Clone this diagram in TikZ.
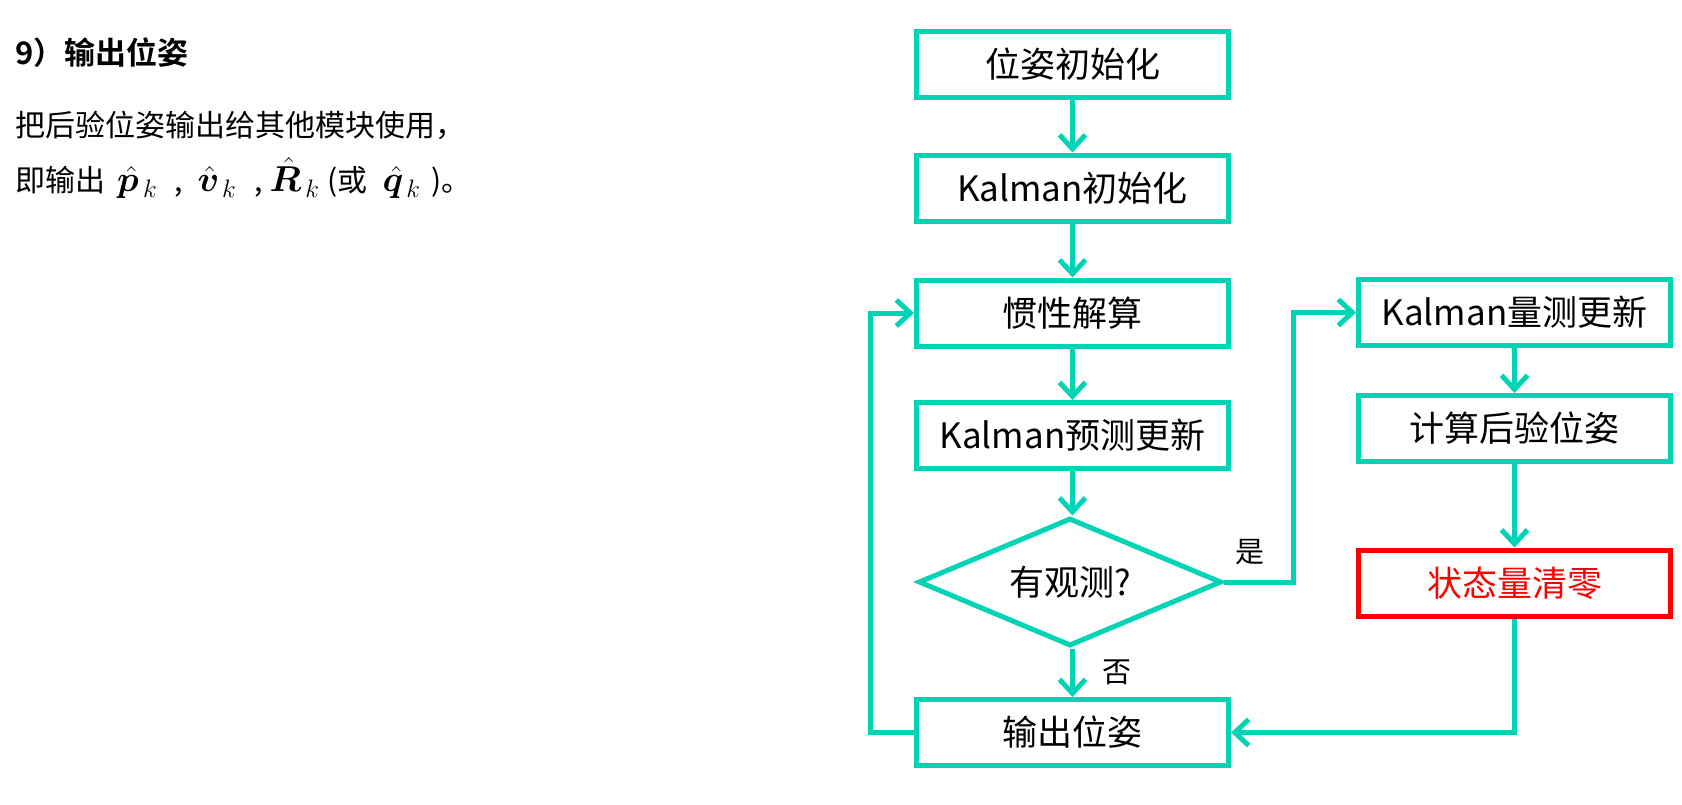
\RequirePackage{fix-cm}
\documentclass[tikz,border=0pt]{standalone}
\usepackage{amsmath,bm}
\usepackage{fontspec}
\setmainfont{Noto Sans CJK SC}[BoldFont={* Bold}]
\usetikzlibrary{shapes.geometric,arrows.meta}
\definecolor{flow}{RGB}{0,212,180}
\definecolor{alert}{RGB}{255,0,0}
\tikzset{
  stepbox/.style={draw=flow, line width=5pt, rectangle, minimum width=312pt,
    minimum height=66pt, inner sep=0pt, font=\fontsize{35}{40}\selectfont},
  warnbox/.style={stepbox, draw=alert, text=alert},
  decide/.style={draw=flow, line width=5pt, diamond, aspect=3, minimum width=303pt,
    minimum height=128pt, inner sep=0pt, font=\fontsize{35}{40}\selectfont},
  flowline/.style={draw=flow, line width=5pt,
    -{Straight Barb[length=14pt,width=26pt]}},
  branch/.style={font=\fontsize{29}{34}\selectfont},
  bodytext/.style={anchor=west, inner sep=0pt, font=\fontsize{30}{36}\selectfont}
}
\newcommand{\bigmath}[1]{{\fontsize{36}{40}\selectfont$#1$}}
\begin{document}
\begin{tikzpicture}[x=1pt,y=-1pt]
\useasboundingbox (0,0) rectangle (1682,804);

% section text
\node[bodytext, font=\fontsize{31}{36}\selectfont\bfseries] (head) at (15,53) {9）输出位姿};
\node[bodytext] (line1) at (15,125) {把后验位姿输出给其他模块使用，};
\node[bodytext] (line2) at (15,178) {即输出\hspace{12pt}\bigmath{\hat{\bm p}_{\,k}}\hspace{17pt},\hspace{15pt}\bigmath{\hat{\bm v}_{\,k}}\hspace{18pt},\hspace{7pt}\bigmath{\hat{\bm R}_{\,k}}\hspace{8pt}(或\hspace{15pt}\bigmath{\hat{\bm q}_{\,k}}\hspace{11pt})。};

% main column
\node[stepbox] (init)  at (1072.5,64)    {位姿初始化};
\node[stepbox] (kinit) at (1072.5,188)   {Kalman初始化};
\node[stepbox] (ins)   at (1072.5,313)   {惯性解算};
\node[stepbox] (pred)  at (1072.5,435.5) {Kalman预测更新};
\node[decide]  (obs)   at (1070,582)     {有观测?};
\node[stepbox] (out)   at (1072.5,732.5) {输出位姿};

% measurement branch
\node[stepbox] (meas) at (1514.5,312.5) {Kalman量测更新};
\node[stepbox] (post) at (1514.5,428.5) {计算后验位姿};
\node[warnbox] (zero) at (1514.5,583)   {状态量清零};

\coordinate (yesturn) at (1293,582);
\coordinate (loopx) at (870,0);

\draw[flowline] (init) -- (kinit);
\draw[flowline] (kinit) -- (ins);
\draw[flowline] (ins) -- (pred);
\draw[flowline] (pred.south) -- (pred.south |- obs.north);
\draw[flowline] (obs.south -| out.north) -- (out.north);
\draw[flowline] (obs.east) -- (yesturn) |- (meas.west);
\draw[flowline] (meas) -- (post);
\draw[flowline] (post) -- (zero);
\draw[flowline] (zero.south) |- (out.east);
\draw[flowline] (out.west) -- (loopx |- out.west) |- (ins.west);

\node[branch] (yes) at (1250,552) {是};
\node[branch] (no)  at (1117,672) {否};
\end{tikzpicture}
\end{document}
